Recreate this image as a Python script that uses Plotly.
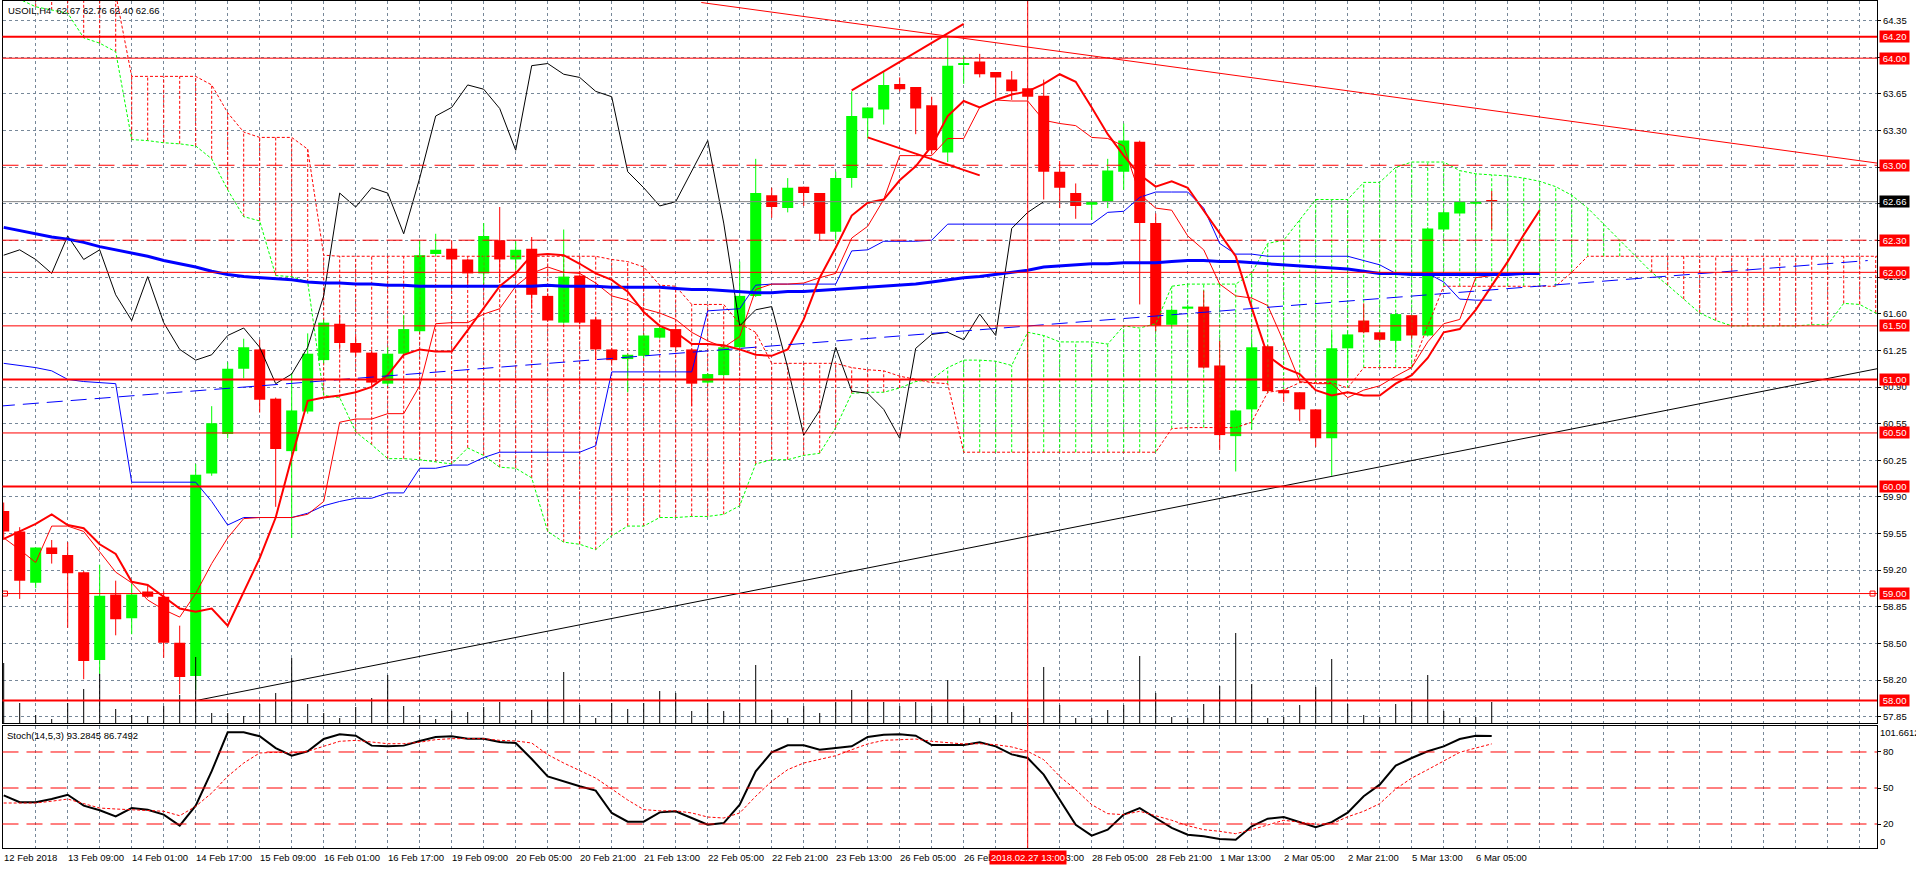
import plotly.graph_objects as go

W, H = 1916, 869
FONT = "Tahoma, 'Liberation Sans', Arial, sans-serif"

# ---------------- data ----------------
opens = [59.77,59.58,59.10,59.43,59.36,59.20,58.38,58.99,58.77,59.02,58.97,58.54,58.23,60.12,60.49,61.10,
         61.28,60.82,60.33,60.70,61.18,61.52,61.34,61.25,60.96,61.24,61.45,62.17,62.22,62.12,61.99,62.30,
         62.12,62.22,61.78,61.53,61.97,61.56,61.28,61.19,61.22,61.39,61.47,61.28,60.97,61.04,61.30,
         61.78,62.72,62.60,62.80,62.74,62.38,62.88,63.44,63.52,63.76,63.73,63.56,63.12,63.94,63.97,63.87,
         63.80,63.72,63.65,62.94,62.74,62.63,62.66,62.94,63.22,62.46,61.51,61.66,61.68,61.13,60.47,60.72,
         61.31,60.90,60.88,60.72,60.45,61.29,61.55,61.44,61.36,61.60,61.41,62.40,62.55,62.64,62.67]
highs = [59.85,59.62,59.43,59.50,59.48,59.21,59.27,59.12,59.09,59.08,59.02,58.70,60.21,60.75,61.16,61.38,
         61.37,60.83,61.06,61.43,61.56,61.60,61.40,61.27,61.30,61.60,62.30,62.36,62.30,62.13,62.46,62.61,
         62.29,62.33,61.80,62.40,61.98,61.58,61.29,61.24,61.42,61.50,61.52,61.29,61.06,61.33,62.10,
         63.06,62.79,62.88,62.80,62.74,62.94,63.69,63.54,63.87,63.82,63.73,63.64,64.20,64.02,64.04,63.87,
         63.88,63.72,63.80,63.04,62.83,62.66,63.06,63.39,63.23,62.55,61.66,61.69,61.83,61.36,60.72,61.35,
         61.32,60.91,60.88,60.72,61.44,61.43,61.71,61.44,61.62,61.60,62.42,62.57,62.67,62.68,62.76]
lows = [59.50,58.95,59.05,59.28,58.68,58.20,58.25,58.61,58.62,58.96,58.40,58.06,58.10,60.10,60.45,61.01,
        60.69,59.81,59.52,60.68,61.15,61.28,61.22,60.94,60.94,61.22,61.44,62.15,61.87,61.87,61.89,61.90,
        62.02,61.66,61.54,61.52,61.52,61.18,61.15,60.88,61.20,61.38,61.28,60.75,60.96,61.03,61.29,
        61.77,62.51,62.56,62.62,62.30,62.30,62.79,63.25,63.38,63.69,63.29,63.10,63.03,63.76,63.82,63.63,
        63.61,63.62,62.68,62.60,62.50,62.49,62.60,62.77,61.70,61.45,61.50,61.65,61.10,60.34,60.14,60.53,
        60.88,60.79,60.61,60.37,60.10,61.03,61.43,61.36,61.26,61.38,61.40,62.39,62.55,62.63,62.40]
closes = [59.58,59.12,59.43,59.37,59.19,58.37,58.98,58.76,58.99,58.97,58.54,58.22,60.11,60.59,61.10,61.30,
          60.81,60.35,60.71,61.24,61.53,61.34,61.25,60.97,61.24,61.47,62.16,62.21,62.12,61.99,62.34,62.12,
          62.21,61.79,61.55,61.96,61.53,61.28,61.18,61.23,61.41,61.48,61.30,60.96,61.05,61.30,61.78,
          62.74,62.61,62.79,62.74,62.36,62.88,63.46,63.54,63.75,63.71,63.53,63.14,63.93,63.95,63.85,63.82,
          63.69,63.64,62.94,62.79,62.62,62.66,62.95,63.23,62.46,61.50,61.65,61.68,61.11,60.48,60.71,61.30,
          60.89,60.87,60.72,60.45,61.29,61.42,61.44,61.37,61.61,61.41,62.41,62.56,62.66,62.66,62.66]
volumes = [60,20,8,4,20,34,49,14,8,7,17,28,66,10,10,7,
           19,30,65,19,10,5,16,25,48,17,8,4,12,11,16,21,
           3,13,22,51,18,5,20,14,20,32,30,12,20,12,20,
           58,13,5,17,10,21,33,21,21,17,21,17,43,17,5,8,
           11,15,56,18,5,5,13,18,67,30,6,5,19,37,90,39,
           5,6,18,36,64,19,8,6,19,22,48,12,5,6,21]

tenkan = [59.52,59.41,59.29,59.63,59.63,59.58,59.39,59.20,59.10,58.94,58.85,58.78,59.00,59.28,59.52,59.70,
          59.71,59.71,59.71,59.74,59.86,60.60,60.63,60.63,60.68,60.68,60.94,61.52,61.53,61.53,61.61,61.66,
          61.87,61.99,62.05,62.00,61.99,61.90,61.78,61.74,61.66,61.62,61.56,61.44,61.36,61.30,61.40,
          61.84,61.89,61.89,61.90,61.95,61.99,62.32,62.43,62.68,63.09,63.09,63.09,63.25,63.25,63.54,63.61,
          63.60,63.60,63.42,63.39,63.37,63.26,63.25,63.18,62.73,62.60,62.58,62.34,62.21,61.89,61.78,61.76,
          61.69,61.35,60.98,60.96,60.96,60.83,60.90,60.94,61.03,61.11,61.35,61.52,61.56,61.95,61.97]
kijun = [61.15,61.13,61.11,61.08,61.00,60.98,60.97,60.96,60.04,60.04,60.04,60.04,60.04,59.86,59.64,59.71,
         59.71,59.71,59.71,59.75,59.82,59.86,59.89,59.89,59.94,59.94,60.17,60.17,60.20,60.20,60.27,60.32,
         60.32,60.32,60.32,60.32,60.32,60.38,61.07,61.07,61.07,61.07,61.07,61.07,61.64,61.65,61.66,
         61.88,61.89,61.89,61.89,61.89,61.89,62.20,62.21,62.29,62.29,62.29,62.30,62.45,62.45,62.45,62.45,
         62.45,62.45,62.45,62.45,62.45,62.45,62.56,62.57,62.70,62.75,62.75,62.75,62.60,62.27,62.17,62.17,
         62.15,62.15,62.15,62.15,62.15,62.15,62.11,62.07,61.99,61.99,61.99,61.91,61.75,61.74,61.74]
span_a = [64.60,64.55,64.48,64.45,64.42,64.19,64.14,64.06,63.24,63.23,63.21,63.20,63.18,63.06,62.77,62.52,
          62.48,61.97,61.96,61.91,60.85,60.83,60.51,60.39,60.26,60.26,60.25,60.23,60.21,60.36,60.29,60.18,
          60.17,60.08,59.58,59.48,59.46,59.41,59.54,59.63,59.63,59.71,59.71,59.72,59.72,59.74,59.82,
          60.21,60.25,60.25,60.29,60.31,60.55,60.87,60.88,60.88,60.92,60.98,61.00,61.11,61.18,61.18,61.17,
          61.13,61.44,61.41,61.35,61.35,61.35,61.33,61.50,61.48,61.52,61.87,61.89,61.89,61.89,61.89,61.99,
          62.27,62.30,62.49,62.68,62.68,62.68,62.84,62.84,62.98,63.03,63.03,63.03,62.95,62.92,62.91,
          62.90,62.88,62.85,62.80,62.72,62.60,62.45,62.30,62.15,62.00,61.88,61.75,61.62,61.55,61.50,61.50,
          61.50,61.50,61.50,61.51,61.51,61.71,61.70,61.62,61.60,61.60]
span_b = [64.80,64.80,64.80,64.80,64.80,64.80,64.80,64.60,63.83,63.83,63.83,63.83,63.83,63.75,63.49,63.31,
          63.26,63.26,63.26,63.15,62.16,62.15,62.15,62.15,62.15,62.15,62.15,62.15,62.15,62.15,62.15,62.15,
          62.15,62.15,62.15,62.15,62.15,62.15,62.12,62.10,62.05,61.88,61.87,61.70,61.70,61.70,61.52,
          61.44,61.15,61.15,61.15,61.15,61.15,61.11,61.09,61.08,61.03,61.00,60.97,60.96,60.32,60.32,60.32,
          60.32,60.32,60.32,60.32,60.32,60.32,60.32,60.32,60.32,60.32,60.54,60.55,60.55,60.55,60.55,60.60,
          60.88,60.90,60.97,60.97,60.97,60.92,61.11,61.11,61.11,61.11,61.50,61.87,61.87,61.87,61.87,
          61.87,61.87,61.87,61.87,62.00,62.15,62.15,62.15,62.15,62.15,62.15,62.15,62.15,62.15,62.15,62.15,
          62.15,62.15,62.15,62.15,62.15,62.15,62.15,62.15,62.15,62.15]
ma_red = [59.51,59.58,59.65,59.74,59.64,59.61,59.46,59.37,59.11,59.08,58.97,58.86,58.83,58.86,58.70,59.02,
          59.33,59.71,60.27,60.80,60.83,60.85,60.88,60.93,61.04,61.23,61.28,61.26,61.26,61.46,61.66,61.87,
          61.99,62.16,62.17,62.16,62.08,61.99,61.93,61.82,61.63,61.50,61.44,61.33,61.33,61.32,61.28,
          61.23,61.22,61.28,61.56,61.95,62.23,62.53,62.65,62.68,62.86,62.99,63.18,63.46,63.60,63.54,63.61,
          63.66,63.69,63.76,63.85,63.78,63.54,63.29,63.09,62.91,62.80,62.85,62.79,62.58,62.36,62.15,61.67,
          61.22,61.11,61.05,60.90,60.85,60.88,60.85,60.85,60.96,61.04,61.20,61.44,61.47,61.65,61.87,
          62.10,62.35,62.58]
ma_blue = [62.42,62.39,62.36,62.33,62.31,62.28,62.24,62.21,62.18,62.15,62.11,62.08,62.05,62.01,61.98,61.96,
           61.95,61.94,61.93,61.91,61.90,61.90,61.89,61.89,61.88,61.88,61.87,61.87,61.87,61.87,61.87,61.87,
           61.87,61.87,61.88,61.87,61.87,61.87,61.86,61.86,61.86,61.86,61.85,61.84,61.84,61.83,61.82,
           61.81,61.81,61.82,61.82,61.83,61.84,61.85,61.86,61.87,61.88,61.89,61.91,61.93,61.95,61.96,61.98,
           62.00,62.02,62.05,62.06,62.07,62.08,62.08,62.09,62.09,62.09,62.10,62.11,62.11,62.10,62.10,62.09,
           62.08,62.07,62.06,62.05,62.04,62.03,62.01,61.99,61.99,61.98,61.98,61.98,61.98,61.98,61.98,
           61.98,61.99,61.99]
stoch_k = [43.9,38.1,38.1,40.8,44.4,35.3,31.4,26.4,33.3,31.9,27.8,18.6,35.3,64.0,96.4,96.4,
           93.1,83.3,76.9,80.6,90.8,94.7,93.6,85.3,84.7,85.3,89.2,92.5,93.1,91.1,91.1,88.3,
           87.5,74.2,59.7,55.3,51.4,47.8,29.2,21.9,21.9,29.7,30.6,25.0,19.4,20.8,36.1,
           63.9,79.7,85.6,85.6,81.9,83.3,84.7,92.5,94.4,94.7,93.6,85.8,85.6,85.8,88.1,84.7,
           78.0,75.0,61.1,40.3,19.4,10.3,15.3,27.8,33.3,25.0,16.7,11.1,9.7,7.5,6.9,18.1,
           24.4,25.8,21.5,17.3,21.5,29.5,43.1,52.8,68.6,75.0,80.6,84.7,90.8,93.6,93.2845]
stoch_d = [37.5,37.5,37.5,39.0,40.8,37.0,33.3,32.5,31.9,31.2,30.6,26.9,34.7,45.8,59.7,70.8,
           79.2,79.7,79.2,80.6,84.7,88.9,89.7,88.1,86.9,86.9,88.1,90.3,91.1,91.1,91.1,89.7,
           89.2,87.5,77.8,70.8,64.7,58.3,49.2,40.0,32.0,31.0,31.0,29.2,25.8,25.0,29.2,
           43.1,55.6,65.3,70.8,73.6,76.9,81.9,86.7,89.7,90.3,90.8,88.9,87.5,86.7,86.9,86.1,
           84.2,80.6,73.6,59.7,48.6,36.1,28.6,27.8,30.6,26.9,23.1,18.6,15.3,13.9,11.9,15.3,
           19.4,23.1,21.5,19.8,20.2,26.0,30.6,36.9,49.2,58.3,65.3,72.2,79.7,83.3,86.7492]

CHIKOU_SHIFT = 26
level_prices = [64.20, 64.00, 63.00, 62.30, 62.00, 61.50, 61.00, 60.50, 60.00, 59.00, 58.00]
level_widths = [2, 1, 1, 1, 1, 1, 2, 1, 2, 1, 2]
level_dashes = ["solid", "solid", "dash", "dash", "solid", "solid", "solid", "solid", "solid", "solid", "solid"]
selected_level = 59.00
selected_level_bars = [0.08, 116.8]

res_bars, res_prices = [43.6, 117.1], [64.52, 63.02]        # red resistance line
sup_bars, sup_prices = [12.0, 117.1], [58.00, 61.10]        # black support line
chan_bars, chan_prices = [-0.3, 116.5], [60.75, 62.11]      # blue dashed line
wedge_up_bars, wedge_up_prices = [53.0, 60.0], [63.70, 64.32]
wedge_lo_bars, wedge_lo_prices = [54.0, 61.0], [63.26, 62.905]
cursor_bar, cursor_text = 64, "2018.02.27 13:00"

price_tick_text = ["64.35", "64.00", "63.65", "63.30", "62.95", "62.60", "62.25", "61.95", "61.60", "61.25",
                   "60.90", "60.55", "60.25", "59.90", "59.55", "59.20", "58.85", "58.50", "58.20", "57.85"]
stoch_levels = [80, 50, 20]
stoch_max = 101.6612
time_tick_bars = list(range(0, 93, 4))
time_tick_text = ["12 Feb 2018", "13 Feb 09:00", "14 Feb 01:00", "14 Feb 17:00", "15 Feb 09:00",
                  "16 Feb 01:00", "16 Feb 17:00", "19 Feb 09:00", "20 Feb 05:00", "20 Feb 21:00",
                  "21 Feb 13:00", "22 Feb 05:00", "22 Feb 21:00", "23 Feb 13:00", "26 Feb 05:00",
                  "26 Feb 21:00", "27 Feb 13:00", "28 Feb 05:00", "28 Feb 21:00", "1 Mar 13:00",
                  "2 Mar 05:00", "2 Mar 21:00", "5 Mar 13:00", "6 Mar 05:00"]
symbol = "USOIL,H4"

# ---------------- layout geometry ----------------
X_DOM = [2.5 / W, 1877 / W]
X_RANGE = [-0.075, 117.08]
Y_MAIN_DOM = [146 / H, 868 / H]
Y_MAIN_RANGE = [57.791, 64.534]
Y_ST_DOM = [21 / H, 143 / H]
GRID = "#778899"
RED, LIME, BLUE = "#FF0000", "#00FF00", "#0000FF"
DOT = "3px,2px"
LDASH = "16px,8px"

bars = list(range(len(opens)))
fig = go.Figure()

# Ichimoku cloud hatching
hxr, hyr, hxg, hyg = [], [], [], []
for i, (a, b) in enumerate(zip(span_a, span_b)):
    if b >= a:
        hxr += [i, i, None]; hyr += [a, b, None]
    else:
        hxg += [i, i, None]; hyg += [b, a, None]
fig.add_trace(go.Scatter(x=hxr, y=hyr, mode="lines", line=dict(color=RED, width=1, dash=DOT), hoverinfo="skip"))
fig.add_trace(go.Scatter(x=hxg, y=hyg, mode="lines", line=dict(color=LIME, width=1, dash=DOT), hoverinfo="skip"))
span_x = list(range(len(span_a)))
fig.add_trace(go.Scatter(x=span_x, y=span_a, mode="lines", line=dict(color=LIME, width=1, dash=DOT)))
fig.add_trace(go.Scatter(x=span_x, y=span_b, mode="lines", line=dict(color=RED, width=1, dash=DOT)))

# volumes (overlay axis)
vx, vy = [], []
for i, v in zip(bars, volumes):
    vx += [i, i, None]; vy += [0, v, None]
fig.add_trace(go.Scatter(x=vx, y=vy, yaxis="y3", mode="lines", line=dict(color="black", width=1)))

# candles
for bull in (True, False):
    wx, wy, bx, bb, bh = [], [], [], [], []
    for i in bars:
        o, h, l, c = opens[i], highs[i], lows[i], closes[i]
        if (c > o) != bull:
            continue
        wx += [i, i, None]; wy += [l, h, None]
        bx.append(i); bb.append(min(o, c)); bh.append(max(abs(c - o), 0.012))
    col = LIME if bull else RED
    fig.add_trace(go.Scatter(x=wx, y=wy, mode="lines", line=dict(color=col, width=1)))
    fig.add_trace(go.Bar(x=bx, y=bh, base=bb, width=0.69, marker=dict(color=col, line=dict(width=0))))

# Ichimoku lines
fig.add_trace(go.Scatter(x=bars, y=kijun, mode="lines", line=dict(color=BLUE, width=1)))
fig.add_trace(go.Scatter(x=bars, y=tenkan, mode="lines", line=dict(color=RED, width=1)))
chik_x = [i - CHIKOU_SHIFT for i in bars if i >= CHIKOU_SHIFT]
chik_y = [closes[i] for i in bars if i >= CHIKOU_SHIFT]
fig.add_trace(go.Scatter(x=chik_x, y=chik_y, mode="lines", line=dict(color="black", width=1)))

# moving averages
fig.add_trace(go.Scatter(x=list(range(len(ma_blue))), y=ma_blue, mode="lines", line=dict(color=BLUE, width=3)))
fig.add_trace(go.Scatter(x=list(range(len(ma_red))), y=ma_red, mode="lines", line=dict(color=RED, width=2)))

# trend lines
fig.add_trace(go.Scatter(x=res_bars, y=res_prices, mode="lines", line=dict(color=RED, width=1)))
fig.add_trace(go.Scatter(x=sup_bars, y=sup_prices, mode="lines", line=dict(color="black", width=1)))
fig.add_trace(go.Scatter(x=chan_bars, y=chan_prices, mode="lines", line=dict(color=BLUE, width=1, dash=LDASH)))
fig.add_trace(go.Scatter(x=wedge_up_bars, y=wedge_up_prices, mode="lines", line=dict(color=RED, width=2)))
fig.add_trace(go.Scatter(x=wedge_lo_bars, y=wedge_lo_prices, mode="lines", line=dict(color=RED, width=2)))
fig.add_trace(go.Scatter(x=selected_level_bars, y=[selected_level] * 2, mode="markers",
                         marker=dict(symbol="square-open", size=5, color=RED, line=dict(width=1, color=RED))))

# stochastic
fig.add_trace(go.Scatter(x=bars, y=stoch_k, xaxis="x2", yaxis="y2", mode="lines", line=dict(color="black", width=2)))
fig.add_trace(go.Scatter(x=bars, y=stoch_d, xaxis="x2", yaxis="y2", mode="lines", line=dict(color=RED, width=1, dash=DOT)))

shapes = []
for p, w, d in zip(level_prices, level_widths, level_dashes):
    shapes.append(dict(type="line", xref="paper", yref="y", x0=X_DOM[0], x1=X_DOM[1], y0=p, y1=p,
                       line=dict(color=RED, width=w, dash=(LDASH if d == "dash" else "solid")), layer="above"))
last_close = closes[-1]
shapes.append(dict(type="line", xref="paper", yref="y", x0=X_DOM[0], x1=X_DOM[1], y0=last_close, y1=last_close,
                   line=dict(color="#808080", width=1), layer="above"))
for lv in stoch_levels:
    shapes.append(dict(type="line", xref="paper", yref="y2", x0=X_DOM[0], x1=X_DOM[1], y0=lv, y1=lv,
                       line=dict(color=RED, width=1, dash=LDASH), layer="above"))
shapes.append(dict(type="line", xref="x", yref="paper", x0=cursor_bar, x1=cursor_bar, y0=Y_ST_DOM[0], y1=Y_MAIN_DOM[1],
                   line=dict(color=RED, width=1), layer="above"))

ann = []
AX_FONT = dict(family=FONT, size=9.5, color="black")
LAB_X = 1878.5 / W
for p in level_prices:
    ann.append(dict(xref="paper", yref="y", x=LAB_X, y=p, xanchor="left", yanchor="middle",
                    text="\u00a0%.2f\u00a0" % p, showarrow=False, bgcolor=RED, borderpad=0,
                    font=dict(family=FONT, size=9.5, color="white")))
ann.append(dict(xref="paper", yref="y", x=LAB_X, y=last_close, xanchor="left", yanchor="middle",
                text="\u00a0%.2f\u00a0" % last_close, showarrow=False, bgcolor="black", borderpad=0,
                font=dict(family=FONT, size=9.5, color="white")))
ann.append(dict(xref="paper", yref="y2", x=1879 / W, y=stoch_max, xanchor="left", yanchor="top",
                text="%.4f" % stoch_max, showarrow=False, font=AX_FONT, borderpad=0))
ann.append(dict(xref="paper", yref="y2", x=1879 / W, y=0, xanchor="left", yanchor="bottom",
                text="0", showarrow=False, font=AX_FONT, borderpad=0))
for b, t in zip(time_tick_bars, time_tick_text):
    ann.append(dict(xref="x2", yref="paper", x=b, y=(H - 857) / H, xanchor="left", yanchor="middle",
                    text=t, showarrow=False, font=AX_FONT, xshift=-2))
ann.append(dict(xref="x2", yref="paper", x=cursor_bar, y=(H - 857.5) / H, xanchor="center", yanchor="middle",
                text=cursor_text, showarrow=False, bgcolor=RED, borderpad=1,
                font=dict(family=FONT, size=9.5, color="white")))
ann.append(dict(xref="paper", yref="paper", x=6 / W, y=(H - 11) / H, xanchor="left", yanchor="middle",
                text="%s\u00a0 %.2f %.2f %.2f %.2f" % (symbol, opens[-1], highs[-1], lows[-1], closes[-1]),
                showarrow=False, font=AX_FONT))
ann.append(dict(xref="paper", yref="paper", x=5 / W, y=(H - 735) / H, xanchor="left", yanchor="middle",
                text="Stoch(14,5,3) %.4f %.4f" % (stoch_k[-1], stoch_d[-1]),
                showarrow=False, font=AX_FONT))

step = (float(price_tick_text[0]) - float(price_tick_text[-1])) / (len(price_tick_text) - 1)
price_tick_vals = [float(price_tick_text[0]) - k * step for k in range(len(price_tick_text))]
grid_bars = list(range(2, 118, 2))

xcommon = dict(domain=X_DOM, range=X_RANGE, showticklabels=False, ticks="", tickvals=grid_bars,
               showgrid=True, gridcolor=GRID, griddash="3px,3px", gridwidth=1, zeroline=False,
               showline=True, linecolor="black", linewidth=1, mirror=True, automargin=False)

fig.update_layout(
    width=W, height=H, margin=dict(l=0, r=0, t=0, b=0), autosize=False,
    paper_bgcolor="white", plot_bgcolor="white", showlegend=False, barmode="overlay",
    font=dict(family=FONT, size=9.5, color="black"),
    xaxis=dict(anchor="y", **xcommon),
    xaxis2=dict(anchor="y2", matches="x", **xcommon),
    yaxis=dict(domain=Y_MAIN_DOM, range=Y_MAIN_RANGE, side="right", anchor="x", tickvals=price_tick_vals,
               ticktext=price_tick_text, ticks="outside", ticklen=3, tickcolor="black", tickfont=AX_FONT,
               showgrid=True, gridcolor=GRID, griddash="3px,3px", gridwidth=1, zeroline=False,
               showline=True, linecolor="black", linewidth=1, mirror=True, automargin=False),
    yaxis2=dict(domain=Y_ST_DOM, range=[0, stoch_max], side="right", anchor="x2", tickvals=stoch_levels,
                ticktext=[str(v) for v in stoch_levels], ticks="outside", ticklen=3, tickcolor="black",
                tickfont=AX_FONT, showgrid=False, zeroline=False, showline=True, linecolor="black",
                linewidth=1, mirror=True, automargin=False),
    yaxis3=dict(overlaying="y", anchor="x", range=[0, 722], visible=False),
    shapes=shapes, annotations=ann,
)

fig.write_html("out.html", config={"displayModeBar": False})
